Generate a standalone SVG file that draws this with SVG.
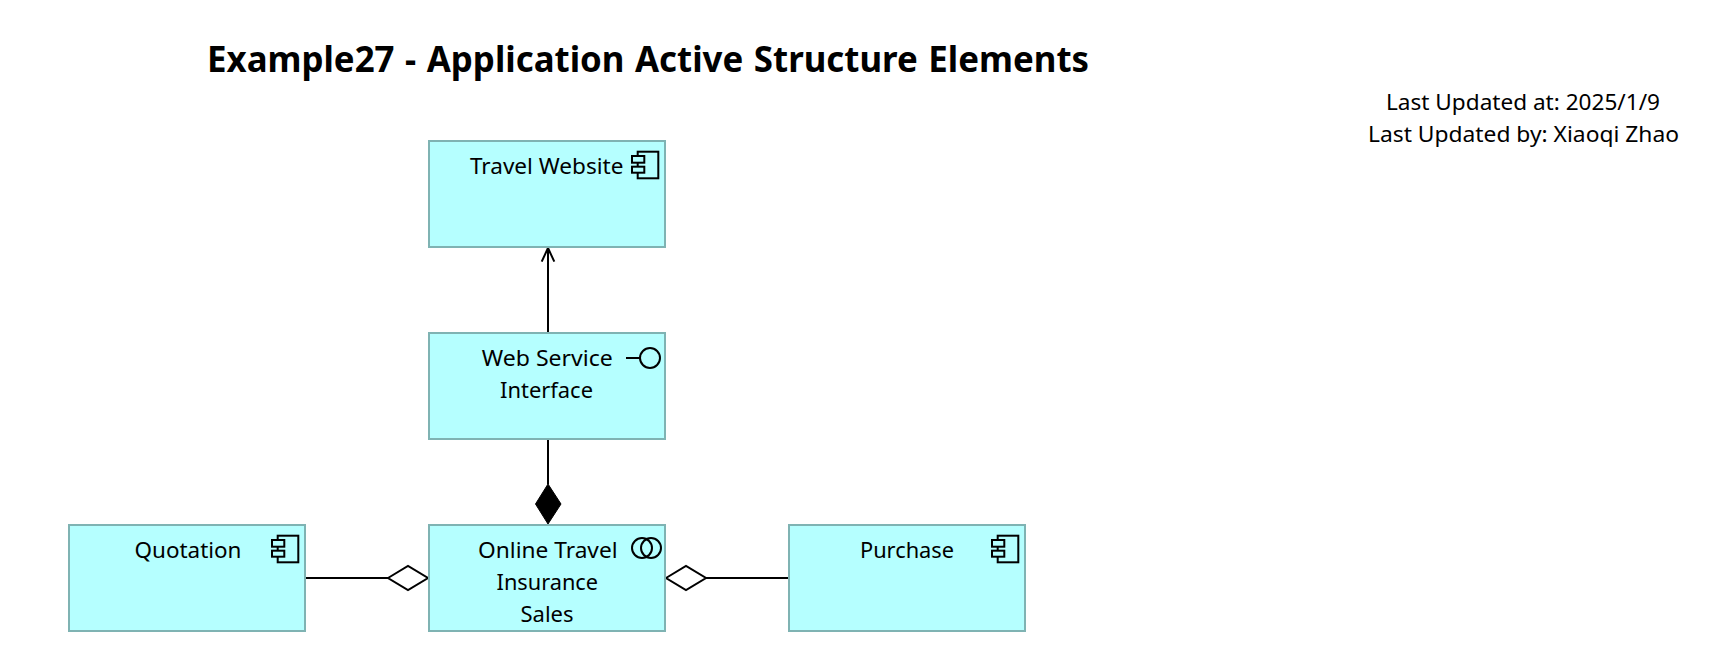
<svg xmlns="http://www.w3.org/2000/svg" width="1730" height="654" viewBox="0 0 1730 654">
<style>
text{font-family:"Noto Sans","Open Sans","Liberation Sans",sans-serif;fill:#000;text-anchor:middle;font-size:22.4px}
.title{font-size:35px;font-weight:700;word-spacing:1.5px}
.box{fill:#b5ffff;stroke:#7fb3b3;stroke-width:2}
.ico{fill:none;stroke:#000;stroke-width:2}
.icf{fill:#b5ffff;stroke:#000;stroke-width:2}
.c{fill:none;stroke:#000;stroke-width:2}
</style>
<defs>
<g id="comp"><rect class="ico" x="5.7" y="0" width="20.6" height="26.6"/><rect class="icf" x="0" y="4.3" width="12.3" height="6.7"/><rect class="icf" x="0" y="15" width="12.3" height="6"/></g>
</defs>
<rect width="1730" height="654" fill="#fff"/>
<g id="title"><text class="title" x="648" y="72" textLength="882" lengthAdjust="spacingAndGlyphs">Example27 - Application Active Structure Elements</text></g>
<g id="meta"><text x="1523" y="110" textLength="274" lengthAdjust="spacingAndGlyphs">Last Updated at: 2025/1/9</text><text x="1523.5" y="142" textLength="311" lengthAdjust="spacingAndGlyphs">Last Updated by: Xiaoqi Zhao</text></g>
<g id="connectors">
<path class="c" d="M548 333V248M541.7 261.7L548 248L554.3 261.7"/>
<path class="c" d="M548 439V484"/>
<path d="M548 484L561 504L548 524L535.5 504Z" fill="#000" stroke="#000"/>
<path class="c" d="M305 578H388"/>
<path d="M388 578L408 566L428 578L408 590Z" fill="#fff" stroke="#000" stroke-width="2"/>
<path class="c" d="M789 578H706"/>
<path d="M666 578L686 566L706 578L686 590Z" fill="#fff" stroke="#000" stroke-width="2"/>
</g>
<g id="travel-website"><rect class="box" x="429" y="141" width="236" height="106"/><text x="546.7" y="173.5" textLength="153.5" lengthAdjust="spacingAndGlyphs">Travel Website</text><use href="#comp" x="632" y="151.7"/></g>
<g id="web-service-interface"><rect class="box" x="429" y="333" width="236" height="106"/><text x="547.3" y="365.8" textLength="131" lengthAdjust="spacingAndGlyphs">Web Service</text><text x="546.5" y="397.8" textLength="93" lengthAdjust="spacingAndGlyphs">Interface</text><circle class="ico" cx="650" cy="358" r="10"/><path class="ico" d="M626 358H640"/></g>
<g id="online-travel-insurance-sales"><rect class="box" x="429" y="525" width="236" height="106"/><text x="547.8" y="557.8" textLength="139.5" lengthAdjust="spacingAndGlyphs">Online Travel</text><text x="547.3" y="589.8" textLength="101.5" lengthAdjust="spacingAndGlyphs">Insurance</text><text x="547" y="621.8" textLength="53" lengthAdjust="spacingAndGlyphs">Sales</text><circle class="ico" cx="642" cy="548" r="10"/><circle class="ico" cx="651" cy="548" r="10"/></g>
<g id="quotation"><rect class="box" x="69" y="525" width="236" height="106"/><text x="188" y="557.8" textLength="107" lengthAdjust="spacingAndGlyphs">Quotation</text><use href="#comp" x="272" y="535.7"/></g>
<g id="purchase"><rect class="box" x="789" y="525" width="236" height="106"/><text x="907" y="557.8" textLength="94" lengthAdjust="spacingAndGlyphs">Purchase</text><use href="#comp" x="992" y="535.7"/></g>
</svg>
